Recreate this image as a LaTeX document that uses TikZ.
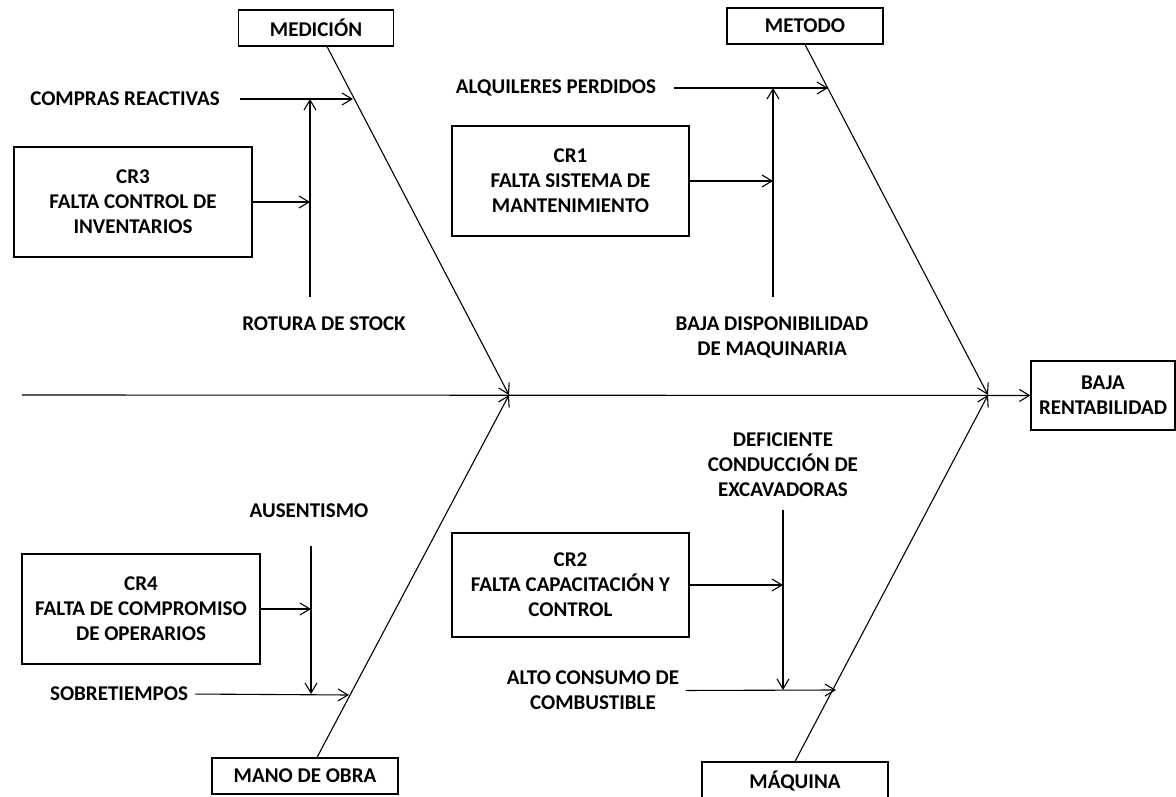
\documentclass[tikz,border=0pt]{standalone}
\usepackage{fontspec}
\setmainfont{Carlito}
\usetikzlibrary{arrows.meta}

\begin{document}
\begin{tikzpicture}[x=1pt,y=-1pt,line width=1.1pt,
  every node/.style={font=\fontsize{21}{25}\selectfont\bfseries,align=center,inner sep=0pt},
  caja/.style={draw,minimum width=#1},
  flecha/.style={-{Straight Barb[length=10pt,width=12pt]}}]
\useasboundingbox (0,0) rectangle (1176,797);
% espina y puntos de union
\path (22,395) coordinate (cola) (509,395) coordinate (jA) (988,395) coordinate (jB)
(353,99) coordinate (b3) (310,99) coordinate (v3)
(828,88) coordinate (b1) (773,88) coordinate (v1)
(349,695) coordinate (b4) (311,694) coordinate (v4)
(836,690) coordinate (b2) (783,690) coordinate (v2);
% categorias
\node[caja=155,minimum height=36] (med) at (316,28) {MEDICIÓN};
\node[caja=156,minimum height=36] (met) at (805,26) {METODO};
\node[caja=186,minimum height=36] (mano) at (305,776) {MANO DE OBRA};
\node[caja=186,minimum height=38] (maq) at (795,781) {MÁQUINA};
\node[caja=144,minimum height=69] (efecto) at (1103,395.5) {BAJA\\RENTABILIDAD};
% causas raiz
\node[caja=238,minimum height=110] (cr3) at (133,202) {CR3\\FALTA CONTROL DE\\INVENTARIOS};
\node[caja=237,minimum height=110] (cr1) at (570.5,181) {CR1\\FALTA SISTEMA DE\\MANTENIMIENTO};
\node[caja=238,minimum height=110] (cr4) at (141,609) {CR4\\FALTA DE COMPROMISO\\DE OPERARIOS};
\node[caja=237,minimum height=104] (cr2) at (570.5,585) {CR2\\FALTA CAPACITACIÓN Y\\CONTROL};
% causas
\node (compras) at (125,99) {COMPRAS REACTIVAS};
\node (rotura) at (324,324) {ROTURA DE STOCK};
\node (alq) at (556,88) {ALQUILERES PERDIDOS};
\node (bajadisp) at (772,337) {BAJA DISPONIBILIDAD\\DE MAQUINARIA};
\node (ausent) at (309,511) {AUSENTISMO};
\node (sobre) at (119,694) {SOBRETIEMPOS};
\node (defic) at (783,465) {DEFICIENTE\\CONDUCCIÓN DE\\EXCAVADORAS};
\node (alto) at (593,690.5) {ALTO CONSUMO DE\\COMBUSTIBLE};
% espinas
\draw[flecha] (cola) -- (efecto);
\draw[flecha] ([xshift=11pt]med.south) -- (jA);
\draw[flecha] (met.south) -- (jB);
\draw[flecha] ([xshift=12pt]mano.north) -- (jA);
\draw[flecha] (maq.north) -- (jB);
% medicion
\draw[flecha,shorten <=20pt] (compras.east) -- (b3);
\draw[flecha,shorten <=19pt] (rotura.north -| v3) -- (v3);
\draw[flecha] (cr3.east) -- (cr3.east -| v3);
% metodo
\draw[flecha,shorten <=17pt] (alq.east) -- (b1);
\draw[flecha,shorten <=19pt] (bajadisp.north -| v1) -- (v1);
\draw[flecha] (cr1.east) -- (cr1.east -| v1);
% mano de obra
\draw[flecha,shorten <=27pt] (ausent.south -| v4) -- (v4);
\draw[flecha] (cr4.east) -- (cr4.east -| v4);
\draw[flecha,shorten <=7pt] (sobre.east) -- (b4);
% maquina
\draw[flecha,shorten <=12pt] (defic.south -| v2) -- (v2);
\draw[flecha] (cr2.east) -- (cr2.east -| v2);
\draw[flecha,shorten <=6pt] (alto.east) -- (b2);
\end{tikzpicture}
\end{document}
